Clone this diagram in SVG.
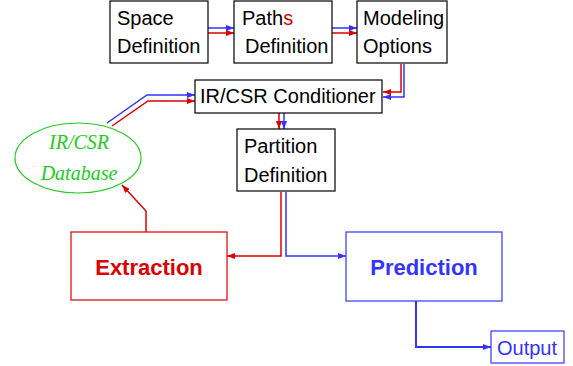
<svg xmlns="http://www.w3.org/2000/svg" width="573" height="366" viewBox="0 0 573 366">
<style>
.box{fill:#fff;stroke:#000;stroke-width:1.2}
.t{font-family:"Liberation Sans",Arial,sans-serif;font-size:20px;fill:#000}
.b{font-family:"Liberation Sans",Arial,sans-serif;font-size:22px;font-weight:bold}
.r{fill:none;stroke:#dd0000;stroke-width:1.5}
.u{fill:none;stroke:#3333ff;stroke-width:1.5}
</style>
<defs>
<marker id="ar" viewBox="0 0 8 6" refX="8" refY="3" markerWidth="8" markerHeight="6" markerUnits="userSpaceOnUse" orient="auto"><path d="M0,0L8,3L0,6z" fill="#dd0000"/></marker>
<marker id="ab" viewBox="0 0 8 6" refX="8" refY="3" markerWidth="8" markerHeight="6" markerUnits="userSpaceOnUse" orient="auto"><path d="M0,0L8,3L0,6z" fill="#3333ff"/></marker>
</defs>
<g id="connectors">
<path class="u" d="M208,28H234" marker-end="url(#ab)"/>
<path class="r" d="M208,33H234" marker-end="url(#ar)"/>
<path class="u" d="M332,28H357" marker-end="url(#ab)"/>
<path class="r" d="M332,33H357" marker-end="url(#ar)"/>
<path class="r" d="M401,64V92H383" marker-end="url(#ar)"/>
<path class="u" d="M404,64V97H383" marker-end="url(#ab)"/>
<path class="u" d="M107,123L147,95H195" marker-end="url(#ab)"/>
<path class="r" d="M112,126L148,101H195" marker-end="url(#ar)"/>
<path class="r" d="M279,113V129" marker-end="url(#ar)"/>
<path class="u" d="M284,113V129" marker-end="url(#ab)"/>
<path class="r" d="M281,192V256H227" marker-end="url(#ar)"/>
<path class="u" d="M286,192V256H346" marker-end="url(#ab)"/>
<path class="r" d="M146,232V211L122,185" marker-end="url(#ar)"/>
<path fill="none" stroke="#3333ff" stroke-width="2" d="M416,301V347H491" marker-end="url(#ab)"/>
</g>
<g id="space"><rect class="box" x="110" y="1" width="98" height="62"/><text class="t" x="117" y="25">Space</text><text class="t" x="117" y="53">Definition</text></g>
<g id="paths"><rect class="box" x="234" y="1" width="98" height="62"/><text class="t" x="242" y="25">Path<tspan fill="#dd0000">s</tspan></text><text class="t" x="245" y="53">Definition</text></g>
<g id="modeling"><rect class="box" x="357" y="1" width="90" height="62"/><text class="t" x="363" y="25">Modeling</text><text class="t" x="363" y="53">Options</text></g>
<g id="conditioner"><rect class="box" x="195" y="80" width="187" height="33"/><text class="t" x="200" y="103">IR/CSR Conditioner</text></g>
<g id="partition"><rect class="box" x="237" y="129" width="98" height="62"/><text class="t" x="244" y="153">Partition</text><text class="t" x="244" y="182">Definition</text></g>
<g id="database"><ellipse cx="78" cy="158" rx="63" ry="35" fill="#fff" stroke="#22cc22" stroke-width="1.2"/><text x="79" y="149" text-anchor="middle" font-family="Liberation Serif,serif" font-style="italic" font-size="20" fill="#22cc22">IR/CSR</text><text x="79" y="180" text-anchor="middle" font-family="Liberation Serif,serif" font-style="italic" font-size="20" fill="#22cc22">Database</text></g>
<g id="extraction"><rect x="71" y="232" width="156" height="68" fill="#fff" stroke="#dd0000" stroke-width="1.2"/><text class="b" x="149" y="275" text-anchor="middle" fill="#dd0000">Extraction</text></g>
<g id="prediction"><rect x="346" y="232" width="156" height="69" fill="#fff" stroke="#3333ff" stroke-width="1.2"/><text class="b" x="424" y="275" text-anchor="middle" fill="#3333ff">Prediction</text></g>
<g id="output"><rect x="491" y="331" width="73" height="32" fill="#fff" stroke="#3333ff" stroke-width="1.2"/><text x="497" y="355" font-family="Liberation Sans,Arial,sans-serif" font-size="20" fill="#3333ff">Output</text></g>
</svg>
